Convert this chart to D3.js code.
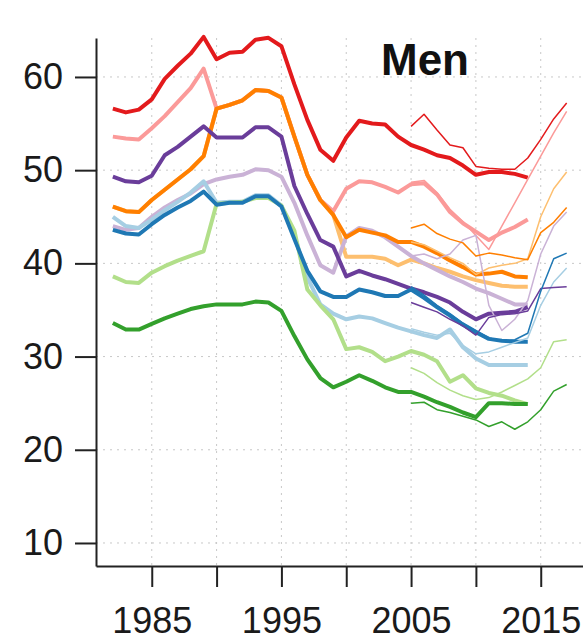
<!DOCTYPE html>
<html lang="en">
<head>
  <meta charset="UTF-8">
  <title>Men</title>
  <script src="https://cdn.jsdelivr.net/npm/d3@7"></script>
  <style>
    body { margin: 0; background: #fff; }
    text { font-family: "Liberation Sans", Arial, sans-serif; }
  </style>
</head>
<body>
  <svg id="chart" width="583" height="643"></svg>
  <script>
    // years
    let thickYears = d3.range(1982, 2015);
    let thinYears = d3.range(2005, 2018);
    let xTicks = [1985, 1990, 1995, 2000, 2005, 2010, 2015];
    let yTicks = [10, 20, 30, 40, 50, 60];

    // thick series, 1982-2014
    let redThick = [56.6, 56.2, 56.5, 57.6, 59.8, 61.2, 62.5, 64.3, 61.9, 62.6, 62.7, 64.0, 64.2, 63.3, 59.2, 55.4, 52.2, 51.0, 53.5, 55.3, 55.0, 54.9, 53.6, 52.7, 52.2, 51.6, 51.3, 50.5, 49.5, 49.8, 49.8, 49.6, 49.2];
    let pinkThick = [53.6, 53.4, 53.3, 54.5, 55.8, 57.3, 58.8, 60.9, 56.6, 57.0, 57.5, 58.6, 58.5, 57.8, 53.6, 49.5, 46.8, 45.6, 48.0, 48.8, 48.7, 48.2, 47.6, 48.5, 48.6, 47.4, 45.5, 44.3, 43.4, 42.5, 43.3, 43.9, 44.7];
    let orangeThick = [46.1, 45.6, 45.5, 46.8, 47.9, 49.0, 50.1, 51.5, 56.6, 57.0, 57.5, 58.6, 58.5, 57.8, 53.6, 49.5, 46.8, 45.2, 42.8, 43.6, 43.3, 43.0, 42.3, 42.3, 41.8, 41.1, 40.3, 39.6, 38.8, 38.9, 39.1, 38.6, 38.5];
    let lightOrangeThick = [46.1, 45.6, 45.5, 46.8, 47.9, 49.0, 50.1, 51.5, 56.6, 57.0, 57.5, 58.6, 58.5, 57.8, 53.6, 49.5, 46.8, 45.2, 40.7, 40.7, 40.7, 40.5, 39.8, 40.4, 40.0, 39.5, 39.1, 38.6, 38.2, 37.9, 37.6, 37.5, 37.5];
    let purpleThick = [49.3, 48.8, 48.7, 49.4, 51.6, 52.5, 53.6, 54.7, 53.5, 53.5, 53.5, 54.6, 54.6, 53.6, 48.3, 45.3, 42.5, 41.8, 38.6, 39.2, 38.7, 38.3, 37.8, 37.3, 36.9, 36.4, 35.8, 34.8, 34.0, 34.6, 34.7, 34.8, 35.3];
    let lightPurpleThick = [44.0, 43.6, 43.8, 45.0, 46.0, 46.8, 47.5, 48.5, 49.0, 49.3, 49.5, 50.1, 50.0, 49.3, 46.5, 43.0, 39.8, 39.0, 42.9, 43.8, 43.5, 42.8, 41.8, 40.8, 40.0, 39.3, 38.6, 38.0, 37.3, 36.8, 36.2, 35.6, 35.6];
    let blueThick = [43.6, 43.2, 43.1, 44.2, 45.2, 46.0, 46.7, 47.7, 46.3, 46.5, 46.5, 47.2, 47.2, 46.1, 42.6, 39.2, 37.0, 36.4, 36.4, 37.2, 36.9, 36.5, 36.5, 37.2, 36.3, 35.3, 34.4, 33.4, 32.6, 31.9, 31.7, 31.6, 31.6];
    let lightBlueThick = [45.0, 44.0, 43.8, 44.7, 45.7, 46.6, 47.6, 48.8, 46.5, 46.6, 46.6, 47.3, 47.3, 46.2, 43.0, 38.5, 35.6, 34.6, 34.0, 34.3, 34.1, 33.6, 33.1, 32.7, 32.3, 32.0, 32.9, 31.0, 29.8, 29.1, 29.1, 29.1, 29.1];
    let lightGreenThick = [38.6, 38.0, 37.9, 39.0, 39.7, 40.3, 40.8, 41.3, 46.4, 46.5, 46.6, 47.0, 47.0, 46.2, 43.5, 37.2, 35.5, 34.0, 30.8, 31.0, 30.5, 29.5, 30.0, 30.6, 30.2, 29.5, 27.3, 28.0, 26.6, 26.1, 25.8, 25.3, 24.9];
    let greenThick = [33.6, 32.9, 32.9, 33.5, 34.1, 34.6, 35.1, 35.4, 35.6, 35.6, 35.6, 35.9, 35.8, 34.9, 32.2, 29.7, 27.7, 26.7, 27.3, 28.0, 27.4, 26.7, 26.2, 26.2, 25.7, 25.1, 24.6, 24.0, 23.5, 25.0, 25.0, 24.9, 24.9];

    // thin series, 2005-2017
    let redThin = [54.7, 56.0, 54.3, 52.7, 52.4, 50.4, 50.2, 50.1, 50.1, 51.3, 53.3, 55.5, 57.2];
    let pinkThin = [48.7, 48.9, 47.6, 45.8, 44.5, 43.0, 41.5, 44.0, 46.5, 49.0, 51.5, 54.0, 56.3];
    let orangeThin = [43.8, 44.2, 43.2, 42.6, 42.2, 40.8, 41.1, 40.9, 40.6, 40.4, 43.3, 44.4, 46.0];
    let lightOrangeThin = [42.3, 42.0, 41.3, 40.6, 40.0, 38.8, 39.5, 39.8, 40.0, 40.5, 45.0, 48.0, 49.8];
    let purpleThin = [35.8, 35.3, 34.8, 34.0, 33.3, 32.3, 34.2, 34.5, 34.6, 34.9, 37.3, 37.4, 37.5];
    let lightPurpleThin = [40.8, 41.0, 40.5, 41.0, 42.5, 43.0, 35.5, 32.8, 34.0, 36.0, 41.0, 44.0, 45.5];
    let blueThin = [37.5, 36.6, 35.5, 34.6, 33.6, 32.8, 32.0, 31.7, 31.8, 32.5, 37.0, 40.5, 41.1];
    let lightBlueThin = [33.0, 32.6, 32.3, 32.5, 31.2, 30.3, 30.5, 31.0, 31.5, 32.0, 35.5, 38.0, 39.5];
    let lightGreenThin = [28.8, 28.2, 27.2, 26.4, 25.8, 25.4, 25.6, 26.2, 26.9, 27.6, 28.8, 31.6, 31.8];
    let greenThin = [25.0, 25.1, 24.3, 24.0, 23.6, 23.2, 22.5, 23.0, 22.2, 23.0, 24.3, 26.3, 27.0];

    // drawing order, back to front
    let series = [
      {color: '#FDBF6F', thick: lightOrangeThick, thin: lightOrangeThin},
      {color: '#FB9A99', thick: pinkThick, thin: pinkThin},
      {color: '#CAB2D6', thick: lightPurpleThick, thin: lightPurpleThin},
      {color: '#A6CEE3', thick: lightBlueThick, thin: lightBlueThin},
      {color: '#B2DF8A', thick: lightGreenThick, thin: lightGreenThin},
      {color: '#FF7F00', thick: orangeThick, thin: orangeThin},
      {color: '#6A3D9A', thick: purpleThick, thin: purpleThin},
      {color: '#1F78B4', thick: blueThick, thin: blueThin},
      {color: '#33A02C', thick: greenThick, thin: greenThin},
      {color: '#E31A1C', thick: redThick, thin: redThin}
    ];

    let svg = d3.select('#chart');
    let plotLeft = 96, plotRight = 583, plotTop = 38, plotBottom = 566;

    let x = d3.scaleLinear().domain([1980.7, 2018.26]).range([plotLeft, plotRight]);
    let y = d3.scaleLinear().domain([7.53, 64.18]).range([plotBottom, plotTop]);

    // dotted grid
    svg.append('g')
      .selectAll('line')
      .data(xTicks)
      .join('line')
      .attr('x1', d => x(d)).attr('x2', d => x(d))
      .attr('y1', plotTop).attr('y2', plotBottom)
      .attr('stroke', '#c8c8c8')
      .attr('stroke-dasharray', '2,5');
    svg.append('g')
      .selectAll('line')
      .data(yTicks)
      .join('line')
      .attr('x1', plotLeft).attr('x2', plotRight)
      .attr('y1', d => y(d)).attr('y2', d => y(d))
      .attr('stroke', '#c8c8c8')
      .attr('stroke-dasharray', '2,5');

    let line = d3.line().x(d => x(d[0])).y(d => y(d[1]));

    series.forEach(s => {
      svg.append('path')
        .datum(thickYears.map((yr, i) => [yr, s.thick[i]]))
        .attr('d', line)
        .attr('fill', 'none')
        .attr('stroke', s.color)
        .attr('stroke-width', 4)
        .attr('stroke-linejoin', 'round');
    });
    series.forEach(s => {
      svg.append('path')
        .datum(thinYears.map((yr, i) => [yr, s.thin[i]]))
        .attr('d', line)
        .attr('fill', 'none')
        .attr('stroke', s.color)
        .attr('stroke-width', 1.5)
        .attr('stroke-linejoin', 'round');
    });

    // axes
    let yAxis = svg.append('g')
      .attr('transform', 'translate(' + plotLeft + ',0)')
      .call(d3.axisLeft(y).tickValues(yTicks).tickSize(21).tickSizeOuter(0).tickPadding(12));
    let xAxis = svg.append('g')
      .attr('transform', 'translate(0,' + plotBottom + ')')
      .call(d3.axisBottom(x).tickValues(xTicks).tickSize(21).tickSizeOuter(0).tickPadding(20)
        .tickFormat(d => (d - 1985) % 10 === 0 ? d : ''));

    [yAxis, xAxis].forEach(a => {
      a.select('.domain').attr('stroke', '#222').attr('stroke-width', 2);
      a.selectAll('.tick line').attr('stroke', '#222').attr('stroke-width', 2);
      a.selectAll('.tick text')
        .attr('fill', '#1a1a1a')
        .style('font-size', '36px')
        .style('font-family', '"Liberation Sans", Arial, sans-serif');
    });

    svg.append('text')
      .attr('x', 425)
      .attr('y', 75)
      .attr('text-anchor', 'middle')
      .attr('font-weight', 'bold')
      .attr('font-size', 44)
      .attr('fill', '#111')
      .text('Men');
  </script>
</body>
</html>
